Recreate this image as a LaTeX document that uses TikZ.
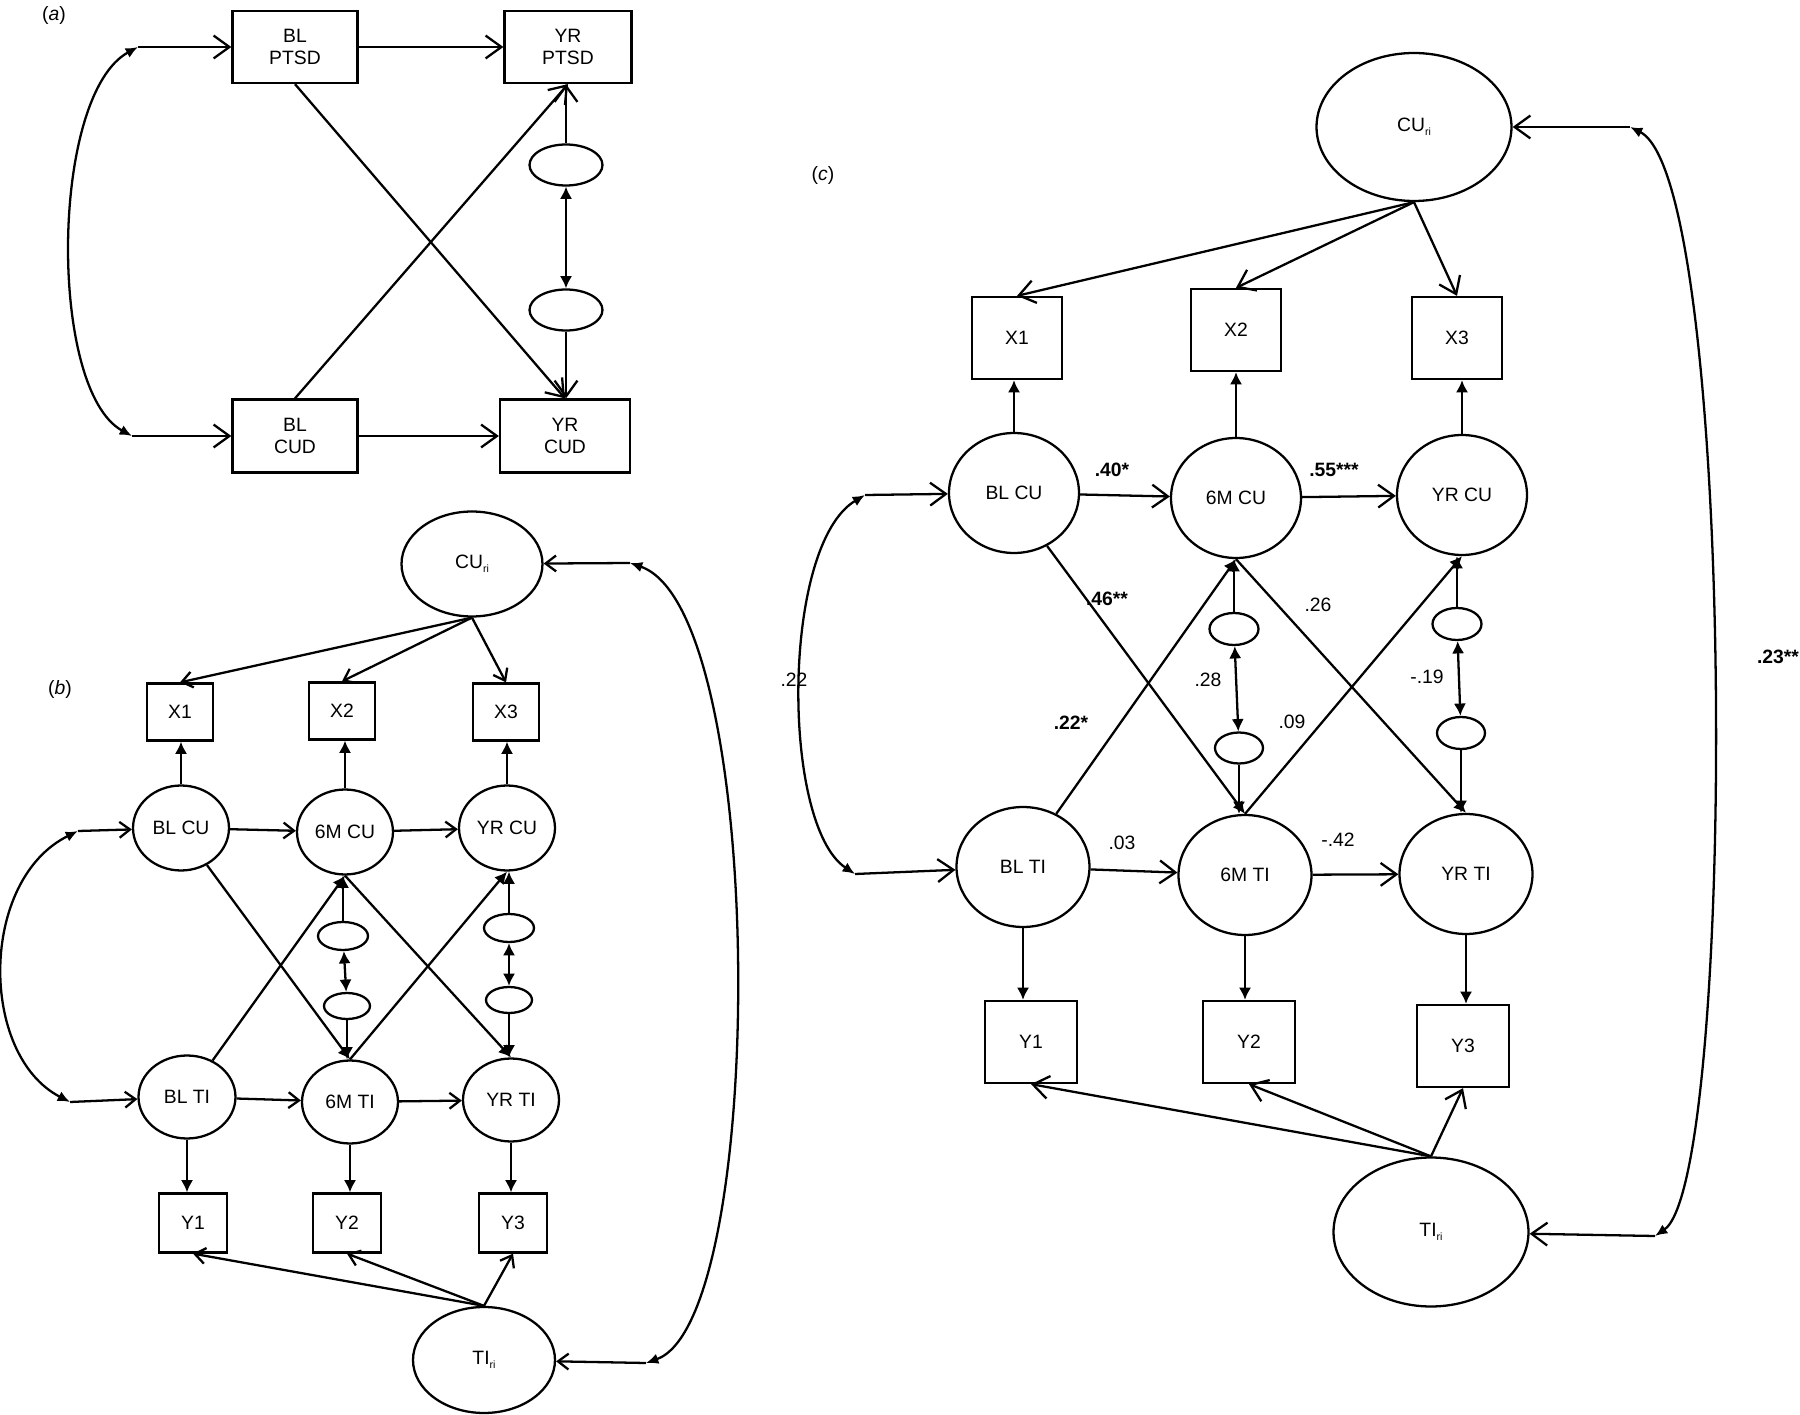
\documentclass[tikz,border=0pt]{standalone}
\usepackage{fontspec}
\setmainfont{Liberation Sans}
\usetikzlibrary{arrows.meta,shapes.geometric}
\newcommand{\indri}{\raisebox{-0.4ex}{\fontsize{6}{6}\selectfont ri}}

\begin{document}
\begin{tikzpicture}[x=0.02cm, y=-0.02cm, line width=1.3pt,
    every node/.style={font=\fontsize{11}{13}\selectfont},
    boite/.style 2 args={draw, rectangle, minimum width=#1, minimum height=#2, inner sep=0pt, align=center},
    latente/.style 2 args={draw, ellipse, minimum width=#1, minimum height=#2, inner sep=0pt},
    fleche/.style={-{Straight Barb[length=9pt,width=13pt]}},
    petite/.style={-{Straight Barb[length=6pt,width=9pt]}},
    pointe/.style={-{Latex[length=7pt,width=7pt]}},
    bidir/.style={{Latex[length=7pt,width=7pt]}-{Latex[length=7pt,width=7pt]}},
    courbe/.style={{Latex[length=7pt,width=6pt]}-{Latex[length=7pt,width=6pt]}},
    coefg/.style={font=\fontsize{11}{13}\selectfont\bfseries}]
    \useasboundingbox (0,0) rectangle (1800,1415);

    % Panneau (a)
    \node (labela) at (54,16) {(\textit{a})};
    \node[boite={2.5cm}{1.44cm}] (aBLp) at (295,47) {BL\\PTSD};
    \node[boite={2.54cm}{1.44cm}] (aYRp) at (568,47) {YR\\PTSD};
    \node[boite={2.5cm}{1.46cm}] (aBLc) at (295,436) {BL\\CUD};
    \node[boite={2.6cm}{1.46cm}] (aYRc) at (565,436) {YR\\CUD};
    \node[latente={1.46cm}{0.82cm}] (aR1) at (566,165) {};
    \node[latente={1.46cm}{0.82cm}] (aR2) at (566,310) {};
    \coordinate (aH) at (138,47);
    \coordinate (aB) at (132,436);
    \draw[courbe] (aH) .. controls (50,95) and (48,390) .. (aB);
    \draw[fleche] (aH) -- (aBLp);
    \draw[fleche] (aB) -- (aBLc);
    \draw[fleche] (aBLp) -- (aYRp);
    \draw[fleche] (aBLc) -- (aYRc);
    \draw[fleche] (aBLp.south) -- (aYRc.north);
    \draw[fleche] (aBLc.north) -- (aYRp.south);
    \draw[fleche] (aR1.north) -- (aR1.north |- aYRp.south);
    \draw[bidir] (aR1) -- (aR2);
    \draw[fleche] (aR2.south) -- (aR2.south |- aYRc.north);

    % Panneau (b)
    \node (labelb) at (60,689) {(\textit{b})};
    \node[latente={2.82cm}{2.1cm}] (bCUri) at (472,564) {CU\indri};
    \node[boite={1.32cm}{1.14cm}] (bX1) at (180,712) {X1};
    \node[boite={1.32cm}{1.14cm}] (bX2) at (342,711) {X2};
    \node[boite={1.32cm}{1.14cm}] (bX3) at (506,712) {X3};
    \node[latente={1.92cm}{1.7cm}] (bBLCU) at (181,828) {BL CU};
    \node[latente={1.92cm}{1.7cm}] (b6MCU) at (345,832) {6M CU};
    \node[latente={1.92cm}{1.7cm}] (bYRCU) at (507,828) {YR CU};
    \node[latente={1.0cm}{0.56cm}] (bR1) at (343,936) {};
    \node[latente={0.92cm}{0.52cm}] (bR2) at (347,1006) {};
    \node[latente={1.0cm}{0.56cm}] (bR3) at (509,928) {};
    \node[latente={0.92cm}{0.52cm}] (bR4) at (509,1000) {};
    \node[latente={1.94cm}{1.66cm}] (bBLTI) at (187,1097) {BL TI};
    \node[latente={1.92cm}{1.66cm}] (b6MTI) at (350,1102) {6M TI};
    \node[latente={1.92cm}{1.66cm}] (bYRTI) at (511,1100) {YR TI};
    \node[boite={1.36cm}{1.18cm}] (bY1) at (193,1223) {Y1};
    \node[boite={1.36cm}{1.18cm}] (bY2) at (347,1223) {Y2};
    \node[boite={1.36cm}{1.18cm}] (bY3) at (513,1223) {Y3};
    \node[latente={2.84cm}{2.12cm}] (bTIri) at (484,1360) {TI\indri};
    \coordinate (bH) at (78,831);
    \coordinate (bB) at (70,1102);
    \coordinate (bH2) at (630,563);
    \coordinate (bB2) at (646,1363);
    \draw[courbe] (bH) .. controls (-21,880) and (-21,1055) .. (bB);
    \draw[courbe] (bH2) .. controls (768,610) and (768,1320) .. (bB2);
    \draw[petite] (bH) -- (bBLCU);
    \draw[petite] (bB) -- (bBLTI);
    \draw[petite] (bH2) -- (bCUri);
    \draw[petite] (bB2) -- (bTIri);
    \foreach \i in {1,2,3} {
        \draw[petite] (bCUri.south) -- (bX\i.north);
        \draw[petite] (bTIri.north) -- (bY\i.south);
    }
    \draw[pointe] (bBLCU.north) -- (bBLCU.north |- bX1.south);
    \draw[pointe] (b6MCU.north) -- (b6MCU.north |- bX2.south);
    \draw[pointe] (bYRCU.north) -- (bYRCU.north |- bX3.south);
    \draw[pointe] (bBLTI.south) -- (bBLTI.south |- bY1.north);
    \draw[pointe] (b6MTI.south) -- (b6MTI.south |- bY2.north);
    \draw[pointe] (bYRTI.south) -- (bYRTI.south |- bY3.north);
    \draw[petite] (bBLCU) -- (b6MCU);
    \draw[petite] (b6MCU) -- (bYRCU);
    \draw[petite] (bBLTI) -- (b6MTI);
    \draw[petite] (b6MTI) -- (bYRTI);
    \draw[pointe] (bBLCU.-55) -- (b6MTI.north);
    \draw[pointe] (bBLTI.55) -- (b6MCU.south);
    \draw[pointe] (b6MCU.south) -- (bYRTI.north);
    \draw[pointe] (b6MTI.north) -- (bYRCU.south);
    \draw[pointe] (bR1.north) -- (bR1.north |- b6MCU.south);
    \draw[bidir] (bR1) -- (bR2);
    \draw[pointe] (bR2.south) -- (bR2.south |- b6MTI.north);
    \draw[pointe] (bR3.north) -- (bR3.north |- bYRCU.south);
    \draw[bidir] (bR3) -- (bR4);
    \draw[pointe] (bR4.south) -- (bR4.south |- bYRTI.north);

    % Panneau (c)
    \node (labelc) at (823,176) {(\textit{c})};
    \node[latente={3.9cm}{2.96cm}] (cCUri) at (1414,127) {CU\indri};
    \node[boite={1.8cm}{1.64cm}] (cX1) at (1017,338) {X1};
    \node[boite={1.8cm}{1.64cm}] (cX2) at (1236,330) {X2};
    \node[boite={1.8cm}{1.64cm}] (cX3) at (1457,338) {X3};
    \node[latente={2.6cm}{2.4cm}] (cBLCU) at (1014,493) {BL CU};
    \node[latente={2.6cm}{2.4cm}] (c6MCU) at (1236,498) {6M CU};
    \node[latente={2.6cm}{2.4cm}] (cYRCU) at (1462,495) {YR CU};
    \node[latente={0.98cm}{0.64cm}] (cR1) at (1234,629) {};
    \node[latente={0.96cm}{0.62cm}] (cR2) at (1239,748) {};
    \node[latente={0.98cm}{0.64cm}] (cR3) at (1457,624) {};
    \node[latente={0.96cm}{0.64cm}] (cR4) at (1461,733) {};
    \node[latente={2.66cm}{2.4cm}] (cBLTI) at (1023,867) {BL TI};
    \node[latente={2.66cm}{2.4cm}] (c6MTI) at (1245,875) {6M TI};
    \node[latente={2.66cm}{2.4cm}] (cYRTI) at (1466,874) {YR TI};
    \node[boite={1.84cm}{1.64cm}] (cY1) at (1031,1042) {Y1};
    \node[boite={1.84cm}{1.64cm}] (cY2) at (1249,1042) {Y2};
    \node[boite={1.84cm}{1.64cm}] (cY3) at (1463,1046) {Y3};
    \node[latente={3.9cm}{2.98cm}] (cTIri) at (1431,1232) {TI\indri};
    \coordinate (cH) at (865,495);
    \coordinate (cB) at (855,874);
    \coordinate (cH2) at (1630,127);
    \coordinate (cB2) at (1655,1236);
    \draw[courbe] (cH) .. controls (781,545) and (781,825) .. (cB);
    \draw[courbe] (cH2) .. controls (1737,180) and (1737,1180) .. (cB2);
    \draw[fleche] (cH) -- (cBLCU);
    \draw[fleche] (cB) -- (cBLTI);
    \draw[fleche] (cH2) -- (cCUri);
    \draw[fleche] (cB2) -- (cTIri);
    \foreach \i in {1,2,3} {
        \draw[fleche] (cCUri.south) -- (cX\i.north);
        \draw[fleche] (cTIri.north) -- (cY\i.south);
    }
    \draw[pointe] (cBLCU.north) -- (cBLCU.north |- cX1.south);
    \draw[pointe] (c6MCU.north) -- (c6MCU.north |- cX2.south);
    \draw[pointe] (cYRCU.north) -- (cYRCU.north |- cX3.south);
    \draw[pointe] (cBLTI.south) -- (cBLTI.south |- cY1.north);
    \draw[pointe] (c6MTI.south) -- (c6MTI.south |- cY2.north);
    \draw[pointe] (cYRTI.south) -- (cYRTI.south |- cY3.north);
    \draw[fleche] (cBLCU) -- (c6MCU);
    \draw[fleche] (c6MCU) -- (cYRCU);
    \draw[fleche] (cBLTI) -- (c6MTI);
    \draw[fleche] (c6MTI) -- (cYRTI);
    \draw[pointe] (cBLCU.-58) -- (c6MTI.north);
    \draw[pointe] (cBLTI.58) -- (c6MCU.south);
    \draw[pointe] (c6MCU.south) -- (cYRTI.north);
    \draw[pointe] (c6MTI.north) -- (cYRCU.south);
    \draw[pointe] (cR1.north) -- (cR1.north |- c6MCU.south);
    \draw[bidir] (cR1) -- (cR2);
    \draw[pointe] (cR2.south) -- (cR2.south |- c6MTI.north);
    \draw[pointe] (cR3.north) -- (cR3.north |- cYRCU.south);
    \draw[bidir] (cR3) -- (cR4);
    \draw[pointe] (cR4.south) -- (cR4.south |- cYRTI.north);

    % Coefficients
    \node[coefg] (k40) at (1112,470) {.40*};
    \node[coefg] (k55) at (1334,470) {.55***};
    \node[coefg] (k46) at (1107,599) {.46**};
    \node (k26) at (1318,605) {.26};
    \node (k22a) at (794,680) {.22};
    \node (k28) at (1208,680) {.28};
    \node (k19) at (1427,677) {-.19};
    \node[coefg] (k22b) at (1071,723) {.22*};
    \node (k09) at (1292,722) {.09};
    \node (k03) at (1122,843) {.03};
    \node (k42) at (1338,840) {-.42};
    \node[coefg, anchor=west] (k23) at (1750,657) {.23**};
\end{tikzpicture}
\end{document}
